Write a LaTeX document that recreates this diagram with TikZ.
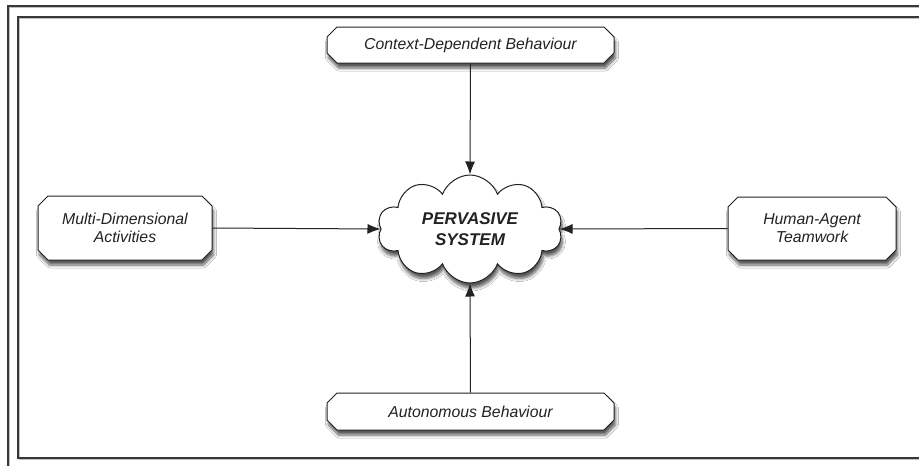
\documentclass[tikz,border=0pt]{standalone}
\usepackage{fontspec}
\setmainfont{Liberation Sans}
\usetikzlibrary{shapes.misc,shapes.symbols,arrows.meta,shadows.blur}
\definecolor{ink}{HTML}{222222}
\tikzset{
  boxnode/.style={chamfered rectangle, chamfered rectangle xsep=5pt, chamfered rectangle ysep=5pt,
    draw=ink, line width=1pt, fill=white, inner sep=0pt, text=ink, align=center,
    font=\fontsize{15.8}{18}\selectfont\itshape,
    blur shadow={shadow xshift=1.5pt, shadow yshift=-5pt, shadow blur steps=6, shadow opacity=65, shadow blur radius=3pt}},
  cloudnode/.style={cloud, cloud puffs=10, cloud puff arc=140, cloud ignores aspect,
    draw=ink, line width=1pt, fill=white, inner sep=0pt, text=ink, align=center,
    font=\fontsize{17}{21}\selectfont\bfseries\itshape,
    blur shadow={shadow xshift=1.5pt, shadow yshift=-5pt, shadow blur steps=6, shadow opacity=65, shadow blur radius=3pt}},
  arr/.style={draw=ink, line width=1pt, -{Latex[length=13pt,width=10pt]}},
  frame/.style={draw=ink!90, line width=1.6pt}
}
\begin{document}
\begin{tikzpicture}[x=1pt,y=-1pt]
\useasboundingbox (0,0) rectangle (919,466);
\fill[white] (0,0) rectangle (919,466);
\begin{scope}
\clip (0,0) rectangle (919,466);
\draw[black!25, line width=1pt] (9.5,7.5) rectangle (960,500);
\draw[frame] (8,6) rectangle (960,500);
\draw[black!25, line width=1pt] (19.5,18.5) rectangle (960,459.5);
\draw[frame] (18,17) rectangle (960,458);
\end{scope}

\node[boxnode, minimum width=287pt, minimum height=36pt] (ctx) at (470.5,45) {Context-Dependent Behaviour};
\node[boxnode, minimum width=287pt, minimum height=37pt] (auto) at (470.5,411.5) {Autonomous Behaviour};
\node[boxnode, minimum width=174pt, minimum height=64pt] (multi) at (125,228) {Multi-Dimensional\\Activities};
\node[boxnode, minimum width=168pt, minimum height=63pt] (human) at (812,228.5) {Human-Agent\\Teamwork};
\node[cloudnode, minimum width=185pt, minimum height=108pt] (cloud) at (470,229) {PERVASIVE\\SYSTEM};

\draw[arr] (ctx.south) -- (cloud.north);
\draw[arr] (auto.north) -- (cloud.south);
\draw[arr] (multi.east) -- (cloud.west);
\draw[arr] (human.west) -- (cloud.east);
\end{tikzpicture}
\end{document}
